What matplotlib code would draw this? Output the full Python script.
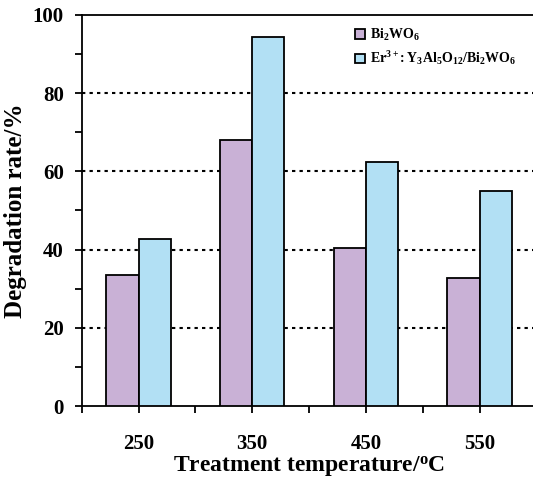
import numpy as np
import matplotlib
matplotlib.use('Agg')
import matplotlib.pyplot as plt
from matplotlib.ticker import MultipleLocator, FixedLocator

plt.rcParams['font.family'] = 'Liberation Serif'
plt.rcParams['font.weight'] = 'bold'
plt.rcParams['mathtext.fontset'] = 'custom'
plt.rcParams['mathtext.rm'] = 'Liberation Serif:bold'
plt.rcParams['mathtext.it'] = 'Liberation Serif:bold'
plt.rcParams['mathtext.bf'] = 'Liberation Serif:bold'

# data
temps      = ['250', '350', '450', '550']
bi2wo6     = [33.5, 68.0, 40.4, 32.7]
er_yag_bwo = [42.7, 94.4, 62.4, 55.0]
labels     = [r'$\mathrm{Bi_2WO_6}$',
              r'$\mathrm{Er^{3+}\!:Y_3Al_5O_{12}/Bi_2WO_6}$']

fig = plt.figure(figsize=(5.33, 4.79), dpi=100)
ax  = fig.add_axes([0.1533, 0.1524, 0.853, 0.8163])

x = np.arange(len(temps))
w = 0.284

ax.bar(x - w / 2, bi2wo6, w, color='#C9B1D6', edgecolor='black', linewidth=1.3,
       label=labels[0], zorder=3)
ax.bar(x + w / 2, er_yag_bwo, w, color='#B2E0F4', edgecolor='black', linewidth=1.3,
       label=labels[1], zorder=3)

for g in [20, 40, 60, 80]:
    ax.axhline(g, color='black', linewidth=1.5, linestyle=(0, (1.6, 2.0)), zorder=1)

ax.set_xlim(-0.5, 3.5)
ax.set_ylim(0, 100)
ax.set_xticks(x)
ax.set_xticklabels(temps)
ax.xaxis.set_minor_locator(FixedLocator([-0.5, 0.5, 1.5, 2.5, 3.5]))
ax.yaxis.set_major_locator(MultipleLocator(20))
ax.yaxis.set_minor_locator(MultipleLocator(10))

ax.tick_params(axis='x', which='both', direction='out', length=5, width=1.3, labelsize=15, pad=15)
ax.tick_params(axis='y', which='both', direction='out', length=5, width=1.3, labelsize=15, pad=8)

ax.spines['right'].set_visible(False)
for s in ['left', 'bottom', 'top']:
    ax.spines[s].set_linewidth(1.3)

ax.set_ylabel('Degradation rate/%', fontsize=18, fontweight='bold', labelpad=4)
ax.set_xlabel(r'Treatment temperature/$^{\mathrm{o}}$C',
              fontsize=17, fontweight='bold', labelpad=0)

ax.legend(loc='upper left', bbox_to_anchor=(355 / 533, 1 - 27 / 479),
          bbox_transform=fig.transFigure, frameon=False, fontsize=10,
          handlelength=0.7, handleheight=0.7, handletextpad=0.4, labelspacing=0.45,
          borderaxespad=0, borderpad=0)

fig.savefig('out.png', dpi=100)
